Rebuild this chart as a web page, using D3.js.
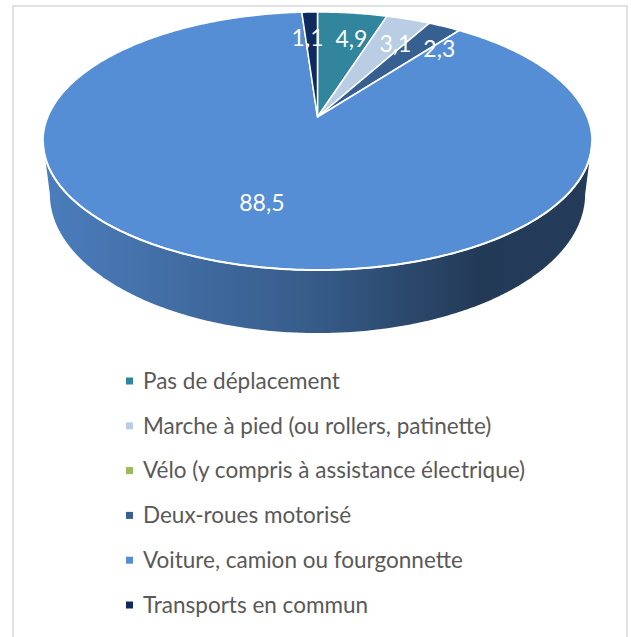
<!DOCTYPE html>
<html>
<head>
<meta charset="utf-8">
<script src="https://cdn.jsdelivr.net/npm/d3@7"></script>
<style>
  body { margin: 0; background: #fff; }
  text { font-family: Lato, "Open Sans", sans-serif; }
</style>
</head>
<body>
<script>
var width = 631, height = 637;

var categories = ["Pas de déplacement", "Marche à pied (ou rollers, patinette)",
                  "Vélo (y compris à assistance électrique)", "Deux-roues motorisé",
                  "Voiture, camion ou fourgonnette", "Transports en commun"];
var values = [4.9, 3.1, 0, 2.3, 88.5, 1.1];
var labels = ["4,9", "3,1", "", "2,3", "88,5", "1,1"];
var palette = ["#31859c", "#b9cde5", "#9bbb59", "#376092", "#558ed5", "#0f2a5e"];

var colors = d3.scaleOrdinal().domain(categories).range(palette);

var svg = d3.select("body").append("svg")
            .attr("width", width).attr("height", height);

// chart frame
svg.append("rect").attr("x", 13).attr("y", 6).attr("width", 614).attr("height", 640)
   .attr("fill", "none").attr("stroke", "#d9d9d9").attr("stroke-width", 1.5);

// perspective of the tilted pie: v = -1 far edge, v = 1 near edge
var cx = 317.5, A = 102.8, B = 117, C = -0.186, D = 269.7;
var depth = 51.3, shrink = 0.975;

function topPt(theta, r) {
    var u = r * Math.sin(theta), v = -r * Math.cos(theta);
    var w = 1 + C * v;
    return [cx + D * u / w, (A * v + B) / w];
}
function bottomPt(theta) {
    var u = Math.sin(theta), v = -Math.cos(theta);
    var w = 1 + C * v;
    return [cx + D * shrink * u / w, (A * v + B + depth) / w];
}
function rim(theta) { return topPt(theta, 1); }
function sample(a0, a1, fn) {
    var n = Math.max(2, Math.ceil(Math.abs(a1 - a0) / 0.01));
    var pts = [];
    for (var i = 0; i <= n; i++) pts.push(fn(a0 + (a1 - a0) * i / n));
    return pts;
}

var details = categories.map(function(c, i) {
    return {category: c, number: values[i], label: labels[i]};
});
var data = d3.pie().sort(null).value(function(d) { return d.number; })(details);

var line = d3.line();

// side wall (only the near half is seen)
var visStart = Math.acos(C), visEnd = 2 * Math.PI - Math.acos(C);
var defs = svg.append("defs");
data.forEach(function(d, i) {
    var base = d3.color(colors(d.data.category));
    var g = defs.append("linearGradient").attr("id", "side" + i)
        .attr("gradientUnits", "userSpaceOnUse")
        .attr("x1", cx - D).attr("x2", cx + D).attr("y1", 0).attr("y2", 0);
    g.append("stop").attr("offset", 0).attr("stop-color", base.darker(0.35));
    g.append("stop").attr("offset", 0.5).attr("stop-color", base.darker(1.25));
    g.append("stop").attr("offset", 0.8).attr("stop-color", base.darker(2.5));
    g.append("stop").attr("offset", 1).attr("stop-color", base.darker(2.4));
});

var sides = svg.append("g");
data.forEach(function(d, i) {
    var a0 = Math.max(d.startAngle, visStart), a1 = Math.min(d.endAngle, visEnd);
    if (a1 <= a0) return;
    var pts = sample(a0, a1, rim).concat(sample(a1, a0, bottomPt));
    sides.append("path").attr("d", line(pts) + "Z")
         .attr("fill", "url(#side" + i + ")");
});

// top face
var faces = svg.append("g");
faces.selectAll("path").data(data.filter(function(d) { return d.value > 0; }))
  .enter().append("path")
  .attr("d", function(d) {
      var pts = [topPt(0, 0)].concat(sample(d.startAngle, d.endAngle, rim));
      return line(pts) + "Z";
  })
  .attr("fill", function(d) { return colors(d.data.category); })
  .attr("stroke", "#fff").attr("stroke-width", 1.5).attr("stroke-linejoin", "round");

// white rim between top face and wall
svg.append("path")
   .attr("d", line(sample(visStart, visEnd, rim)))
   .attr("fill", "none").attr("stroke", "#fff").attr("stroke-width", 2);

// data labels
var labelData = data.filter(function(d) { return d.data.label; });
var content = svg.append("g").selectAll("text").data(labelData)
  .enter().append("text")
  .attr("text-anchor", "middle").attr("dy", "0.35em")
  .attr("fill", "#fff").attr("font-size", 23)
  .each(function(d) {
      var rho = (d.endAngle - d.startAngle) > Math.PI ? 0.64 : 0.72;
      var p = topPt((d.startAngle + d.endAngle) / 2, rho);
      d.lx = p[0]; d.ly = p[1];
      d3.select(this).text(d.data.label);
      d.lw = this.getComputedTextLength();
  });

// push the small labels apart, left to right
var small = labelData.filter(function(d) { return (d.endAngle - d.startAngle) < Math.PI; })
                     .sort(function(a, b) { return a.lx - b.lx; });
small[0].lx -= 4;
for (var k = 1; k < small.length; k++) {
    var prev = small[k - 1], cur = small[k];
    cur.lx = Math.max(cur.lx, prev.lx + prev.lw / 2 + cur.lw / 2 + 12);
}
content.attr("x", function(d) { return d.lx; }).attr("y", function(d) { return d.ly; });

// legend
var ly = d3.scalePoint().domain(categories).range([381, 605]);
var legend = svg.append("g").selectAll(".legends").data(categories)
  .enter().append("g").classed("legends", true)
  .attr("transform", function(d) { return "translate(126," + ly(d) + ")"; });

legend.append("rect").attr("x", 0).attr("y", -3.5).attr("width", 7).attr("height", 7)
      .attr("fill", function(d) { return colors(d); });
legend.append("text").text(function(d) { return d; })
      .attr("x", 17).attr("dy", "0.35em")
      .attr("fill", "#595959").attr("font-size", 22.5);
</script>
</body>
</html>
